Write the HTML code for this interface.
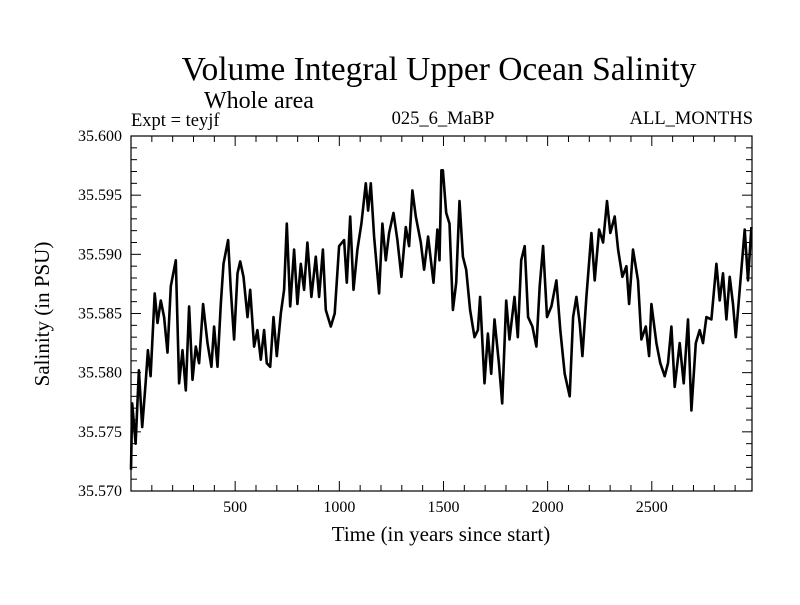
<!DOCTYPE html>
<html><head><meta charset="utf-8"><style>
html,body{margin:0;padding:0;background:#fff;}
svg text{font-family:"Liberation Serif",serif;fill:#000;}
</style></head><body>
<svg id="c" width="800" height="600" xmlns="http://www.w3.org/2000/svg">
<text x="439" y="80" font-size="33.5" text-anchor="middle">Volume Integral Upper Ocean Salinity</text>
<text x="204" y="108" font-size="24">Whole area</text>
<text x="131" y="126" font-size="18.5">Expt = teyjf</text>
<text x="443" y="124" font-size="18.5" text-anchor="middle">025_6_MaBP</text>
<text x="753" y="124" font-size="18.5" text-anchor="end">ALL_MONTHS</text>
<text x="441" y="541" font-size="21" text-anchor="middle">Time (in years since start)</text>
<text transform="translate(49,314) rotate(-90)" font-size="21" text-anchor="middle">Salinity (in PSU)</text>
<g id="axes"></g>
<path id="line" fill="none" stroke="#000" stroke-width="2.6" stroke-linejoin="round"/>
<rect x="131" y="136" width="621" height="355" fill="none" stroke="#000" stroke-width="1.2"/>
</svg>
<script>
const years=[0,6,22,38,54,70,81,94,114,127,143,159,175,191,215,231,247,263,279,295,311,327,346,367,386,399,415,431,444,466,479,495,511,524,540,559,572,591,607,623,639,652,668,684,700,719,735,748,764,783,799,815,831,847,866,887,903,921,935,959,978,999,1023,1036,1052,1068,1087,1106,1127,1138,1151,1167,1191,1207,1223,1239,1260,1279,1298,1319,1335,1351,1367,1391,1407,1426,1452,1471,1481,1490,1497,1513,1529,1545,1561,1577,1593,1609,1628,1649,1665,1676,1697,1713,1729,1745,1766,1782,1801,1817,1841,1857,1873,1890,1906,1927,1946,1962,1978,1997,2018,2042,2061,2082,2106,2122,2138,2154,2167,2186,2210,2226,2247,2266,2285,2301,2322,2338,2359,2378,2391,2410,2434,2450,2471,2487,2498,2522,2541,2562,2578,2594,2610,2634,2653,2674,2690,2711,2730,2746,2762,2786,2810,2826,2842,2858,2874,2890,2903,2922,2946,2962,2978];
const salinity=[35.5718,35.5774,35.5740,35.5802,35.5754,35.5791,35.5819,35.5797,35.5867,35.5842,35.5861,35.5847,35.5817,35.5873,35.5895,35.5791,35.5819,35.5785,35.5856,35.5794,35.5822,35.5808,35.5858,35.5825,35.5805,35.5839,35.5805,35.5858,35.5892,35.5912,35.5870,35.5828,35.5884,35.5894,35.5881,35.5847,35.5870,35.5822,35.5836,35.5811,35.5836,35.5808,35.5805,35.5847,35.5814,35.5850,35.5870,35.5926,35.5856,35.5904,35.5858,35.5892,35.5870,35.5910,35.5864,35.5898,35.5864,35.5904,35.5853,35.5839,35.5850,35.5907,35.5912,35.5876,35.5932,35.5870,35.5904,35.5926,35.5960,35.5937,35.5960,35.5915,35.5867,35.5926,35.5895,35.5918,35.5935,35.5912,35.5881,35.5923,35.5907,35.5954,35.5932,35.5910,35.5887,35.5915,35.5876,35.5921,35.5895,35.5971,35.5971,35.5935,35.5926,35.5853,35.5876,35.5945,35.5898,35.5887,35.5853,35.5830,35.5836,35.5864,35.5791,35.5833,35.5799,35.5845,35.5808,35.5774,35.5861,35.5828,35.5864,35.5830,35.5895,35.5907,35.5847,35.5839,35.5822,35.5873,35.5907,35.5847,35.5856,35.5878,35.5836,35.5799,35.5780,35.5847,35.5864,35.5842,35.5814,35.5864,35.5918,35.5878,35.5921,35.5910,35.5945,35.5918,35.5932,35.5904,35.5881,35.5890,35.5858,35.5904,35.5878,35.5828,35.5839,35.5814,35.5858,35.5825,35.5808,35.5797,35.5808,35.5839,35.5788,35.5825,35.5791,35.5845,35.5768,35.5825,35.5836,35.5825,35.5847,35.5845,35.5892,35.5861,35.5884,35.5845,35.5881,35.5858,35.5830,35.5870,35.5921,35.5878,35.5923];
const xTicks=[500,1000,1500,2000,2500];
const yTicks=["35.570","35.575","35.580","35.585","35.590","35.595","35.600"];
const X0=131,X1=752,Y0=491,Y1=136,XMAX=2981,YMIN=35.570,YMAX=35.600;
function sx(v){return X0+(v/XMAX)*(X1-X0);}
function sy(v){return Y0-(v-YMIN)/(YMAX-YMIN)*(Y0-Y1);}
const NS="http://www.w3.org/2000/svg";
const ax=document.getElementById('axes');
function ln(x1,y1,x2,y2,name){const l=document.createElementNS(NS,'line');l.setAttribute('x1',x1);l.setAttribute('y1',y1);l.setAttribute('x2',x2);l.setAttribute('y2',y2);l.setAttribute('stroke','#000');l.setAttribute('stroke-width','1');


ax.appendChild(l);}
for(let t=100;t<XMAX;t+=100){const x=sx(t);const L=(t%500===0)?10:6;ln(x,Y0,x,Y0-L,'x-tick');ln(x,Y1,x,Y1+L,'x-tick-top');}
for(let i=1;i<30;i++){const y=sy(YMIN+i*0.001);const L=(i%5===0)?10:6;ln(X0,y,X0+L,y,'y-tick');ln(X1,y,X1-L,y,'y-tick-right');}
xTicks.forEach(t=>{const e=document.createElementNS(NS,'text');e.setAttribute('x',sx(t));e.setAttribute('y',512);e.setAttribute('font-size','16');e.setAttribute('text-anchor','middle');e.textContent=t;


ax.appendChild(e);});
yTicks.forEach(t=>{const e=document.createElementNS(NS,'text');e.setAttribute('x',122);e.setAttribute('y',sy(parseFloat(t))+5);e.setAttribute('font-size','16');e.setAttribute('text-anchor','end');e.textContent=t;


ax.appendChild(e);});
let d='';years.forEach((yr,i)=>{d+=(i?'L':'M')+sx(yr).toFixed(1)+','+sy(salinity[i]).toFixed(1);});
document.getElementById('line').setAttribute('d',d);
</script>
</body></html>
